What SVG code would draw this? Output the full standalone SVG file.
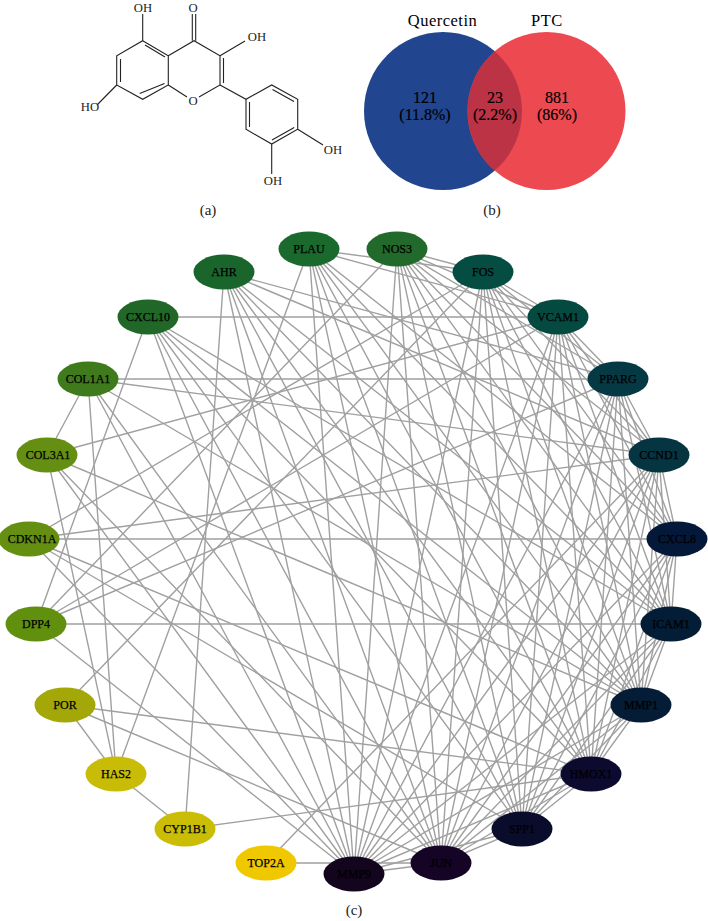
<svg xmlns="http://www.w3.org/2000/svg" width="708" height="921" viewBox="0 0 708 921">
<style>
text{font-family:"Liberation Serif","Times New Roman",serif;fill:#000;text-anchor:middle}
.n text{font-size:12px;stroke:#000;stroke-width:.25}
.n ellipse{rx:30.5px;ry:17.5px}
#connectors path{stroke:#a0a0a0;stroke-width:1.4;fill:none}
#molecule path{stroke:#222;stroke-width:1.1;fill:none}
#molecule text{font-size:12.7px;fill:#222}
.cap{font-size:15px;fill:#222}
.v{font-size:16px;stroke:#000;stroke-width:.2}
</style>
<defs><clipPath id="bc"><circle cx="443" cy="111" r="79"/></clipPath></defs>
<rect width="708" height="921" fill="#fff"/>
<g id="molecule">
<path d="M142.700 40.700L168.300 55.700V85L142.700 99.300L116.700 85V55.700ZM168.300 55.700L194 40.700L220 55.700V85L199 97M187 97L168.300 85"/>
<path d="M145 45L165 57M139.700 93.500L164.500 83.500M120.500 59V82M223.500 58V83"/>
<path d="M192.300 40.700V14M195.700 40.700V14M142.700 40.700V14M220 55.700L245 41M116.700 85L97 105"/>
<path d="M220 85L246 99.300L271.700 85L297.700 99.300V129.300L271.700 144L246 129.300V99.300M297.700 129.300L323 145M271.700 144V174"/>
<path d="M272.500 89.500L294 101.500M294.200 127.500L272 140M249.500 102V127"/>
<text x="143" y="12">OH</text><text x="193" y="12">O</text><text x="257" y="41">OH</text><text x="90" y="111">HO</text><text x="193" y="105">O</text><text x="333" y="154">OH</text><text x="273" y="185">OH</text>
</g>
<text class="cap" x="208" y="215">(a)</text>
<g id="venn">
<circle cx="443" cy="111" r="79" fill="#21468f"/>
<circle cx="546.500" cy="111" r="79" fill="#ec4a50"/>
<circle cx="546.500" cy="111" r="79" fill="#bd3346" clip-path="url(#bc)"/>
<text x="442.500" y="26" font-size="16.500" letter-spacing=".5" fill="#222">Quercetin</text>
<text x="547" y="26" font-size="16.500" letter-spacing=".5" fill="#222">PTC</text>
<text class="v" x="425" y="103">121</text><text class="v" x="425" y="120">(11.8%)</text>
<text class="v" x="495" y="103">23</text><text class="v" x="495" y="120">(2.2%)</text>
<text class="v" x="557" y="103">881</text><text class="v" x="557" y="120">(86%)</text>
</g>
<text class="cap" x="492" y="215">(b)</text>
<g id="connectors">
<path d="M266 863L441 863M266 863L659 455M185 829L116 774M185 829L224 272M185 829L591 774"/>
<path d="M116 774L65 705M116 774L88 379M116 774L47 455M116 774L309 249"/>
<path d="M65 705L483 272M65 705L591 774M65 705L441 863"/>
<path d="M36 624L671 624M36 624L148 317M36 624L397 249M36 624L558 317M36 624L618 379M36 624L354 874"/>
<path d="M29 539L677 539M29 539L659 455M29 539L483 272M29 539L354 874M29 539L522 829M29 539L591 774"/>
<path d="M47 455L88 379M47 455L558 317M47 455L354 874M47 455L441 863M47 455L641 705"/>
<path d="M88 379L618 379M88 379L659 455M88 379L354 874M88 379L441 863M88 379L641 705"/>
<path d="M148 317L558 317M148 317L354 874M148 317L441 863M148 317L522 829M148 317L591 774M148 317L641 705M148 317L671 624"/>
<path d="M224 272L618 379M224 272L659 455M224 272L354 874M224 272L441 863M224 272L522 829M224 272L591 774M224 272L641 705M224 272L671 624"/>
<path d="M309 249L483 272M309 249L558 317M309 249L354 874M309 249L441 863M309 249L522 829M309 249L591 774M309 249L641 705M309 249L671 624M309 249L677 539"/>
<path d="M397 249L483 272M397 249L558 317M397 249L618 379M397 249L354 874M397 249L441 863M397 249L522 829M397 249L591 774M397 249L641 705M397 249L671 624M397 249L677 539M397 249L659 455"/>
<path d="M483 272L558 317M483 272L618 379M483 272L659 455M483 272L677 539M483 272L671 624M483 272L641 705M483 272L591 774M483 272L522 829M483 272L441 863M483 272L354 874"/>
<path d="M558 317L618 379M558 317L659 455M558 317L677 539M558 317L671 624M558 317L641 705M558 317L591 774M558 317L522 829M558 317L441 863M558 317L354 874"/>
<path d="M618 379L659 455M618 379L677 539M618 379L671 624M618 379L641 705M618 379L591 774M618 379L522 829M618 379L441 863M618 379L354 874"/>
<path d="M659 455L677 539M659 455L671 624M659 455L641 705M659 455L591 774M659 455L522 829M659 455L441 863M659 455L354 874"/>
<path d="M677 539L671 624M677 539L641 705M677 539L591 774M677 539L522 829M677 539L441 863M677 539L354 874"/>
<path d="M671 624L641 705M671 624L591 774M671 624L522 829M671 624L441 863M671 624L354 874"/>
<path d="M641 705L591 774M641 705L522 829M641 705L441 863M641 705L354 874"/>
<path d="M591 774L522 829M591 774L441 863M591 774L354 874M522 829L441 863M522 829L354 874M441 863L354 874"/>
</g>
<g id="PLAU" class="n"><ellipse cx="309" cy="249" fill="#1b6a2d"/><text x="309" y="253">PLAU</text></g>
<g id="AHR" class="n"><ellipse cx="224" cy="272" fill="#1a652c"/><text x="224" y="276">AHR</text></g>
<g id="CXCL10" class="n"><ellipse cx="148" cy="317" fill="#206728"/><text x="148" y="321">CXCL10</text></g>
<g id="COL1A1" class="n"><ellipse cx="88" cy="379" fill="#3f7a1c"/><text x="88" y="383">COL1A1</text></g>
<g id="COL3A1" class="n"><ellipse cx="47" cy="455" fill="#658f12"/><text x="48" y="459">COL3A1</text></g>
<g id="CDKN1A" class="n"><ellipse cx="29" cy="539" fill="#658f10"/><text x="32" y="543">CDKN1A</text></g>
<g id="DPP4" class="n"><ellipse cx="36" cy="624" fill="#61900e"/><text x="36" y="628">DPP4</text></g>
<g id="POR" class="n"><ellipse cx="65" cy="705" fill="#a3a808"/><text x="65" y="709">POR</text></g>
<g id="HAS2" class="n"><ellipse cx="116" cy="774" fill="#c9bc06"/><text x="116" y="778">HAS2</text></g>
<g id="CYP1B1" class="n"><ellipse cx="185" cy="829" fill="#cbbc05"/><text x="185" y="833">CYP1B1</text></g>
<g id="TOP2A" class="n"><ellipse cx="266" cy="863" fill="#f0c800"/><text x="266" y="867">TOP2A</text></g>
<g id="MMP9" class="n"><ellipse cx="354" cy="874" fill="#14051f"/><text x="354" y="878">MMP9</text></g>
<g id="JUN" class="n"><ellipse cx="441" cy="863" fill="#150425"/><text x="441" y="867">JUN</text></g>
<g id="SPP1" class="n"><ellipse cx="522" cy="829" fill="#0a0c2c"/><text x="522" y="833">SPP1</text></g>
<g id="HMOX1" class="n"><ellipse cx="591" cy="774" fill="#0d0a30"/><text x="591" y="778">HMOX1</text></g>
<g id="MMP1" class="n"><ellipse cx="641" cy="705" fill="#041c36"/><text x="641" y="709">MMP1</text></g>
<g id="ICAM1" class="n"><ellipse cx="671" cy="624" fill="#031d36"/><text x="671" y="628">ICAM1</text></g>
<g id="CXCL8" class="n"><ellipse cx="677" cy="539" fill="#04183a"/><text x="677" y="543">CXCL8</text></g>
<g id="CCND1" class="n"><ellipse cx="659" cy="455" fill="#053540"/><text x="659" y="459">CCND1</text></g>
<g id="PPARG" class="n"><ellipse cx="618" cy="379" fill="#053a45"/><text x="618" y="383">PPARG</text></g>
<g id="VCAM1" class="n"><ellipse cx="558" cy="317" fill="#054a40"/><text x="558" y="321">VCAM1</text></g>
<g id="FOS" class="n"><ellipse cx="483" cy="272" fill="#054d42"/><text x="483" y="276">FOS</text></g>
<g id="NOS3" class="n"><ellipse cx="397" cy="249" fill="#216a2c"/><text x="397" y="253">NOS3</text></g>
<text class="cap" x="354" y="915">(c)</text>
</svg>
